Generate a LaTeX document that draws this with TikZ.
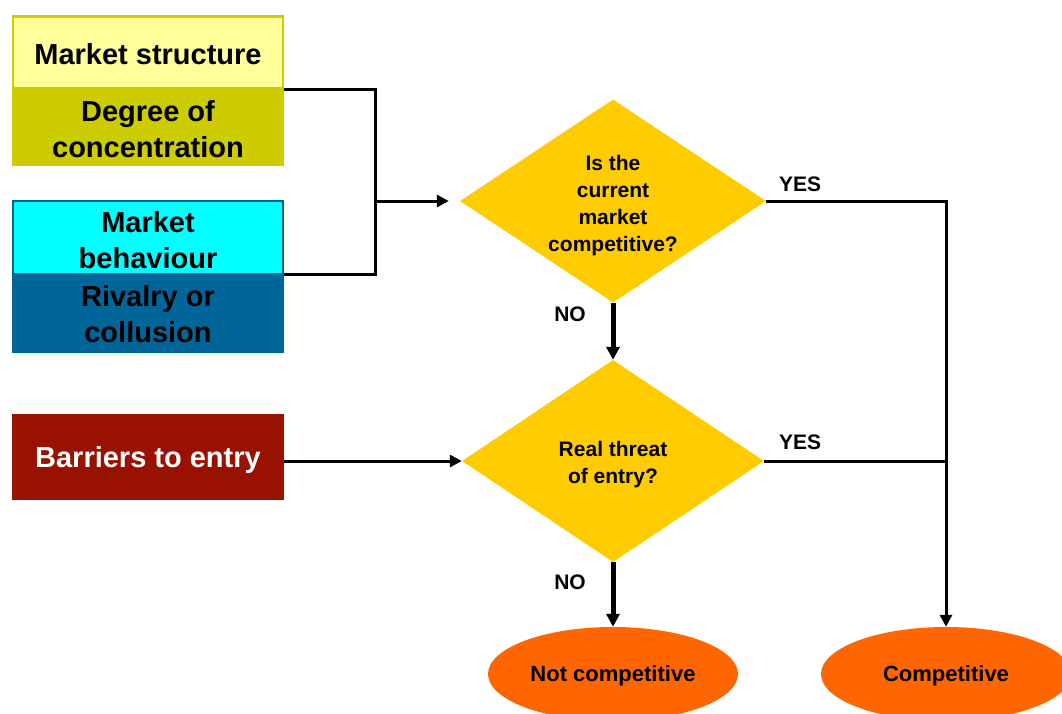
\documentclass[tikz,border=0pt]{standalone}
\usepackage{fontspec}
\setmainfont{Liberation Sans}
\usetikzlibrary{shapes.geometric,arrows.meta}
\definecolor{ltyellow}{RGB}{255,255,153}
\definecolor{olive}{RGB}{204,204,0}
\definecolor{cyanbox}{RGB}{0,255,255}
\definecolor{bluebox}{RGB}{0,102,153}
\definecolor{redbox}{RGB}{153,17,0}
\definecolor{diafill}{RGB}{255,204,0}
\definecolor{ovalfill}{RGB}{255,102,0}
\newcommand\lowtext[2]{\raisebox{-#1}[\height][\depth]{\begin{tabular}{@{}c@{}}#2\end{tabular}}}
\tikzset{
  boxpart/.style={rectangle, minimum width=272pt, inner sep=0pt,
    font=\fontsize{29}{36}\selectfont\bfseries},
  decision/.style={diamond, fill=diafill, aspect=1.5, inner sep=0pt,
    font=\fontsize{21}{27}\selectfont\bfseries},
  outcome/.style={ellipse, fill=ovalfill, minimum width=250pt, minimum height=94pt,
    inner sep=0pt, font=\fontsize{22}{26}\selectfont\bfseries},
  lbl/.style={font=\fontsize{21}{25}\selectfont\bfseries, inner sep=0pt},
  conn/.style={line width=3pt},
  thick arrow/.style={line width=5pt, -{Triangle[length=13pt,width=13pt]}},
  thin arrow/.style={line width=3pt, -{Triangle[length=12pt,width=12pt]}},
}
\begin{document}
\begin{tikzpicture}[x=1pt,y=1pt]
\useasboundingbox (0,0) rectangle (1062,-713);
% left boxes
\node[boxpart, fill=olive, minimum height=77pt] (msbot) at (148,-127.5) {\lowtext{4.7pt}{Degree of\\concentration}};
\node[boxpart, fill=ltyellow, draw=olive, line width=2.5pt, minimum width=270pt, minimum height=72pt] (mstop) at (148,-52.5) {\lowtext{4.7pt}{Market structure}};
\node[boxpart, fill=bluebox, minimum height=79pt] (mbbot) at (148,-313.5) {\lowtext{4.2pt}{Rivalry or\\collusion}};
\node[boxpart, fill=cyanbox, draw=bluebox, line width=2pt, minimum width=270pt, minimum height=73pt] (mbtop) at (148,-237) {\lowtext{6.5pt}{Market\\behaviour}};
\node[boxpart, fill=redbox, text=white, minimum height=86pt] (bar) at (148,-457) {\lowtext{3.7pt}{Barriers to entry}};
% decisions
\node[decision, minimum width=306pt, minimum height=203pt] (d1) at (613,-201) {\lowtext{4.6pt}{Is the\\current\\market\\competitive?}};
\node[decision, minimum width=302pt, minimum height=202pt] (d2) at (613,-461) {\lowtext{3.1pt}{Real threat\\of entry?}};
% outcomes
\node[outcome] (nc) at (613,-674) {\lowtext{2.7pt}{Not competitive}};
\node[outcome] (co) at (946,-674) {\lowtext{2.7pt}{Competitive}};
% connectors
\coordinate (j) at (375,-201);
\draw[conn] (mstop.south east) -| (j) |- (mbtop.south east);
\draw[thin arrow, shorten >=11pt] (j) -- (d1.west);
\draw[thin arrow] (bar.east |- d2.west) -- (d2.west);
\draw[thick arrow] (d1.south) -- (d2.north);
\draw[thick arrow] (d2.south) -- (nc.north);
\draw[thin arrow] (d1.east) -| (co.north);
\coordinate (yj) at (co.north |- d2.east);
\draw[conn] (d2.east) -- (yj);
% labels
\node[lbl] (yes1) at (800,-184) {YES};
\node[lbl] (yes2) at (800,-442) {YES};
\node[lbl] (no1) at (570,-314) {NO};
\node[lbl] (no2) at (570,-582) {NO};
\end{tikzpicture}
\end{document}
